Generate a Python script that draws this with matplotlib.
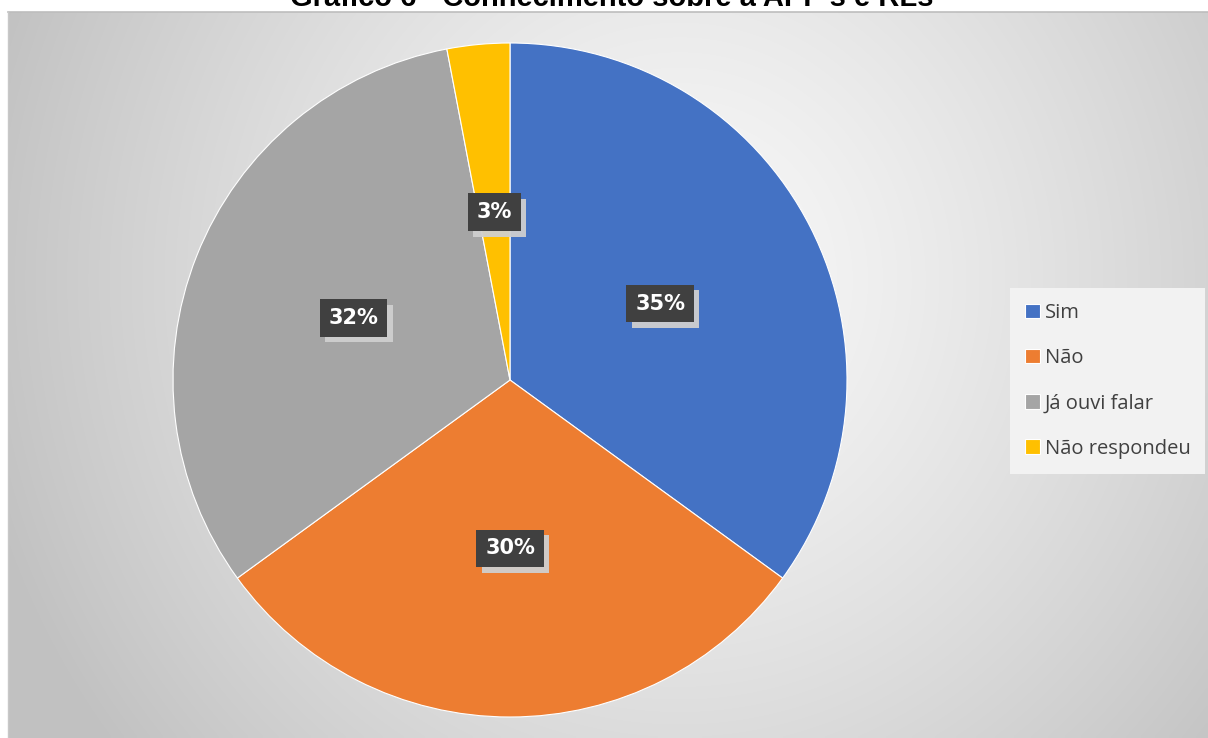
import numpy as np
import matplotlib
matplotlib.use("Agg")
import matplotlib.pyplot as plt
import matplotlib.patheffects as pe

categories = ["Sim", "Não", "Já ouvi falar", "Não respondeu"]
values = [35, 30, 32, 3]
pct_labels = ["35%", "30%", "32%", "3%"]
colors = ["#4472C4", "#ED7D31", "#A5A5A5", "#FFC000"]
title = "Gráfico 6 - Conhecimento sobre a APP's e RLs"

W, H = 1208, 738
fig = plt.figure(figsize=(W / 100, H / 100), dpi=100)
fig.patch.set_facecolor("white")

# background panel with radial gradient
x0, y0 = 8, 12  # pixel coords (top-left origin)
bg = fig.add_axes([x0 / W, 0, 1 - x0 / W, (H - y0) / H])
bg.set_axis_off()
nx, ny = 300, 200
xs = np.linspace(x0, W, nx)
ys = np.linspace(y0, H, ny)
XX, YY = np.meshgrid(xs, ys)
d = np.sqrt(((XX - 680) / 1.0) ** 2 + ((YY - 280) / 1.05) ** 2)
t = np.clip(d / 720, 0, 1)
shade = 0.975 - (0.975 - 0.76) * t ** 1.3
img = np.dstack([shade, shade, shade])
bg.imshow(img, extent=[0, 1, 0, 1], aspect="auto", origin="upper", interpolation="bilinear")
bg.set_xlim(0, 1)
bg.set_ylim(0, 1)
fig.add_artist(plt.Line2D([x0 / W, 1], [1 - y0 / H, 1 - y0 / H], color="#bdbdbd", lw=1.2,
                          transform=fig.transFigure))
fig.add_artist(plt.Line2D([x0 / W, x0 / W], [0, 1 - y0 / H], color="#c8c8c8", lw=1.0,
                          transform=fig.transFigure))

# pie axes: center (510,380), radius 337
cx, cy, R = 510, 380, 337
ax = fig.add_axes([(cx - R) / W, 1 - (cy + R) / H, 2 * R / W, 2 * R / H])
wedges, _ = ax.pie(values, colors=colors, startangle=90, counterclock=False,
                   wedgeprops=dict(linewidth=0.8, edgecolor="white"), radius=1.0)
ax.set_xlim(-1, 1)
ax.set_ylim(-1, 1)
ax.set_aspect("equal")
ax.set_axis_off()

# percentage labels
cum = 0
total = sum(values)
for v, lab in zip(values, pct_labels):
    mid = 90 - (cum + v / 2) / total * 360
    cum += v
    r = 0.5
    xl, yl = r * np.cos(np.radians(mid)), r * np.sin(np.radians(mid))
    txt = ax.text(xl, yl, lab, ha="center", va="center", fontsize=15, fontweight="bold",
                  color="white", family="DejaVu Sans",
                  bbox=dict(boxstyle="square,pad=0.42", fc="#404040", ec="none"))
    txt.get_bbox_patch().set_path_effects([
        pe.SimplePatchShadow(offset=(4, -4), shadow_rgbFace="#cfcfcf", alpha=0.95),
        pe.Normal()])

# legend
leg = fig.legend(wedges, categories, loc="upper left",
                 bbox_to_anchor=(1010 / W, 1 - 288 / H), frameon=True,
                 prop=dict(family="Open Sans", size=14.5), labelcolor="#404040",
                 handlelength=0.72, handleheight=0.72, handletextpad=0.25,
                 labelspacing=1.25, borderpad=0.75, borderaxespad=0, fancybox=False)
leg.get_frame().set_facecolor("#f2f2f2")
leg.get_frame().set_edgecolor("none")
leg.get_frame().set_alpha(1)

# title (clipped at top, as in the reference)
fig.text(612 / W, 1 - 6 / H, title, ha="center", va="baseline", fontsize=21,
         fontweight="bold", family="Liberation Sans", color="black")

fig.savefig("out.png", dpi=100)
